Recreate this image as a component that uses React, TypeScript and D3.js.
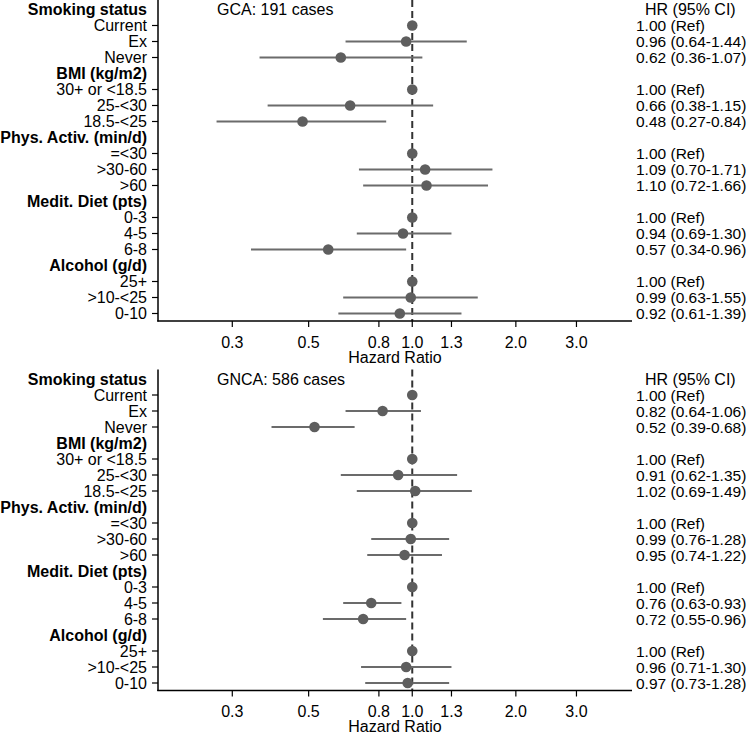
import React from "react";
import * as d3 from "d3";

// group headers and level labels (same for both panels)
const groups = ["Smoking status", "BMI (kg/m2)", "Phys. Activ. (min/d)", "Medit. Diet (pts)", "Alcohol (g/d)"];
const levels = [
  ["Current", "Ex", "Never"],
  ["30+ or <18.5", "25-<30", "18.5-<25"],
  ["=<30", ">30-60", ">60"],
  ["0-3", "4-5", "6-8"],
  ["25+", ">10-<25", "0-10"],
];

// GCA: 191 cases
const gcaHR = [1.0, 0.96, 0.62, 1.0, 0.66, 0.48, 1.0, 1.09, 1.1, 1.0, 0.94, 0.57, 1.0, 0.99, 0.92];
const gcaLo = [null, 0.64, 0.36, null, 0.38, 0.27, null, 0.7, 0.72, null, 0.69, 0.34, null, 0.63, 0.61];
const gcaHi = [null, 1.44, 1.07, null, 1.15, 0.84, null, 1.71, 1.66, null, 1.3, 0.96, null, 1.55, 1.39];

// GNCA: 586 cases
const gncaHR = [1.0, 0.82, 0.52, 1.0, 0.91, 1.02, 1.0, 0.99, 0.95, 1.0, 0.76, 0.72, 1.0, 0.96, 0.97];
const gncaLo = [null, 0.64, 0.39, null, 0.62, 0.69, null, 0.76, 0.74, null, 0.63, 0.55, null, 0.71, 0.73];
const gncaHi = [null, 1.06, 0.68, null, 1.35, 1.49, null, 1.28, 1.22, null, 0.93, 0.96, null, 1.3, 1.28];

const xTicks = [0.3, 0.5, 0.8, 1.0, 1.3, 2.0, 3.0];

const W = 749;
const H = 733;
const FONT = "'Liberation Sans', Arial, Helvetica, sans-serif";

const x = d3.scaleLog().domain([0.1825, 4.35]).range([158, 632]);
const rowY = d3.scalePoint<number>().domain(d3.range(20)).range([9.5, 313.5]);

function Panel({ title, hr, lo, hi, y0 }) {
  const fmt = d3.format(".2f");
  const rows = [];
  let r = 0;
  groups.forEach((g, gi) => {
    rows.push({ header: true, label: g, row: r++ });
    levels[gi].forEach((lv, li) => {
      const k = gi * 3 + li;
      rows.push({ header: false, label: lv, row: r++, hr: hr[k], lo: lo[k], hi: hi[k] });
    });
  });
  const axisY = 321;
  return (
    <g transform={`translate(0,${y0})`} fontFamily={FONT} fontSize={16}>
      {/* reference line */}
      <line x1={x(1)} x2={x(1)} y1={0} y2={axisY} stroke="#333" strokeWidth={2} strokeDasharray="7,4" />
      {/* axes */}
      <line x1={158} x2={158} y1={0} y2={axisY + 0.5} stroke="#000" strokeWidth={1.5} />
      <line x1={157.25} x2={632} y1={axisY} y2={axisY} stroke="#000" strokeWidth={1.5} />
      {xTicks.map((t) => (
        <g key={t}>
          <line x1={x(t)} x2={x(t)} y1={axisY} y2={axisY + 6} stroke="#000" strokeWidth={1.2} />
          <text x={x(t)} y={axisY + 21} textAnchor="middle" dominantBaseline="central" fill="#000">
            {d3.format(".1f")(t)}
          </text>
        </g>
      ))}
      <text x={395} y={axisY + 36} textAnchor="middle" dominantBaseline="central" fill="#000">
        Hazard Ratio
      </text>
      <text x={217} y={rowY(0)} dominantBaseline="central" fill="#000">{title}</text>
      <text x={645} y={rowY(0)} dominantBaseline="central" fill="#000">HR (95% CI)</text>
      {rows.map((d) => (
        <g key={d.row}>
          <text
            x={147}
            y={rowY(d.row)}
            textAnchor="end"
            dominantBaseline="central"
            fontWeight={d.header ? "bold" : "normal"}
            fill="#000"
          >
            {d.label}
          </text>
          {!d.header && (
            <>
              <line x1={152} x2={158} y1={rowY(d.row)} y2={rowY(d.row)} stroke="#000" strokeWidth={1.2} />
              {d.lo != null && (
                <line x1={x(d.lo)} x2={x(d.hi)} y1={rowY(d.row)} y2={rowY(d.row)} stroke="#6b6b6b" strokeWidth={2.2} />
              )}
              <circle cx={x(d.hr)} cy={rowY(d.row)} r={5.3} fill="#5e5e5e" />
              <text x={636} y={rowY(d.row)} dominantBaseline="central" fontSize={15.5} fill="#000">
                {d.lo == null ? `${fmt(d.hr)} (Ref)` : `${fmt(d.hr)} (${fmt(d.lo)}-${fmt(d.hi)})`}
              </text>
            </>
          )}
        </g>
      ))}
    </g>
  );
}

export default function App() {
  return (
    <svg
      width={W}
      height={H}
      style={{ position: "absolute", left: 0, top: 0, background: "#fff" }}
    >
      <rect width={W} height={H} fill="#fff" />
      <Panel title="GCA: 191 cases" hr={gcaHR} lo={gcaLo} hi={gcaHi} y0={0} />
      <Panel title="GNCA: 586 cases" hr={gncaHR} lo={gncaLo} hi={gncaHi} y0={369.5} />
    </svg>
  );
}
